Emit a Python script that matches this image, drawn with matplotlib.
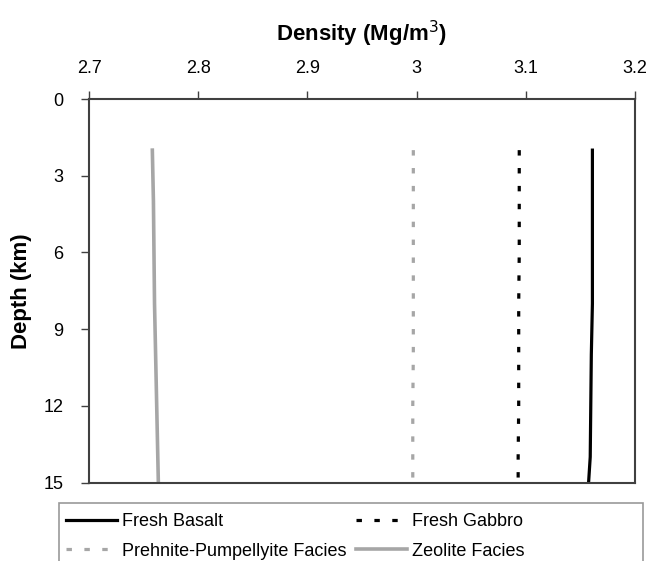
import numpy as np
import matplotlib.pyplot as plt
from matplotlib.patches import Rectangle

plt.rcParams['font.family'] = ['Liberation Sans', 'DejaVu Sans']

# depth profile (km) and densities (Mg/m^3) for each rock type
depth = [2, 4, 6, 8, 10, 12, 14, 15]
fresh_basalt = [3.161, 3.161, 3.161, 3.161, 3.160, 3.1595, 3.159, 3.1575]
fresh_gabbro = [3.094, 3.094, 3.094, 3.0935, 3.0935, 3.0935, 3.093, 3.093]
prehnite_pump = [2.997, 2.997, 2.997, 2.997, 2.997, 2.9965, 2.9965, 2.9965]
zeolite = [2.758, 2.759, 2.7595, 2.760, 2.761, 2.762, 2.763, 2.7635]

xticks = [2.7, 2.8, 2.9, 3.0, 3.1, 3.2]
xticklabels = ["2.7", "2.8", "2.9", "3", "3.1", "3.2"]
yticks = [0, 3, 6, 9, 12, 15]

W, H = 647, 561
fig = plt.figure(figsize=(W / 100, H / 100), dpi=100)
ax = fig.add_axes([89 / W, 1 - 482.5 / H, (635 - 89) / W, (482.5 - 99) / H])

dot = (1.7, 3.9)
h_basalt, = ax.plot(fresh_basalt, depth, color='black', lw=2.3, label='Fresh Basalt')
h_gabbro, = ax.plot(fresh_gabbro, depth, color='black', lw=2.3, dashes=dot,
                    label='Fresh Gabbro')
h_prehn, = ax.plot(prehnite_pump, depth, color='#a6a6a6', lw=2.3, dashes=dot,
                   label='Prehnite-Pumpellyite Facies')
h_zeol, = ax.plot(zeolite, depth, color='#a6a6a6', lw=2.6, label='Zeolite Facies')

ax.set_xlim(2.7, 3.2)
ax.set_ylim(15, 0)
ax.xaxis.tick_top()
ax.xaxis.set_label_position('top')
ax.set_xticks(xticks)
ax.set_xticklabels(xticklabels)
ax.set_yticks(yticks)
ax.tick_params(direction='out', length=5.5, width=1, color='#404040',
               labelsize=13, pad=10)
ax.tick_params(axis='y', pad=13)

for s in ax.spines.values():
    s.set_color('#404040')
    s.set_linewidth(1.5)

ax.set_xlabel('Density (Mg/m$^{\\mathsf{3}}$)', fontsize=16, fontweight='bold', labelpad=14)
ax.set_ylabel('Depth (km)', fontsize=16, fontweight='bold', labelpad=8)

# legend box spans the figure width and runs off the bottom edge
fig.patches.append(Rectangle((59 / W, -0.05), (643 - 59) / W, 0.05 + 1 - 503 / H,
                             transform=fig.transFigure, facecolor='white',
                             edgecolor='#999999', lw=1.2, zorder=1))

# legend fills by column, so order handles to read row by row
handles = [h_basalt, h_prehn, h_gabbro, h_zeol]
leg = fig.legend(handles=handles, labels=[h.get_label() for h in handles],
                 loc='upper left', ncol=2,
                 bbox_to_anchor=(66 / W, 1 - 513 / H),
                 fontsize=13, frameon=False, handlelength=2.8, handletextpad=0.3,
                 borderaxespad=0, borderpad=0, labelspacing=0.7,
                 columnspacing=0.55)

fig.savefig('out.png', dpi=100)
